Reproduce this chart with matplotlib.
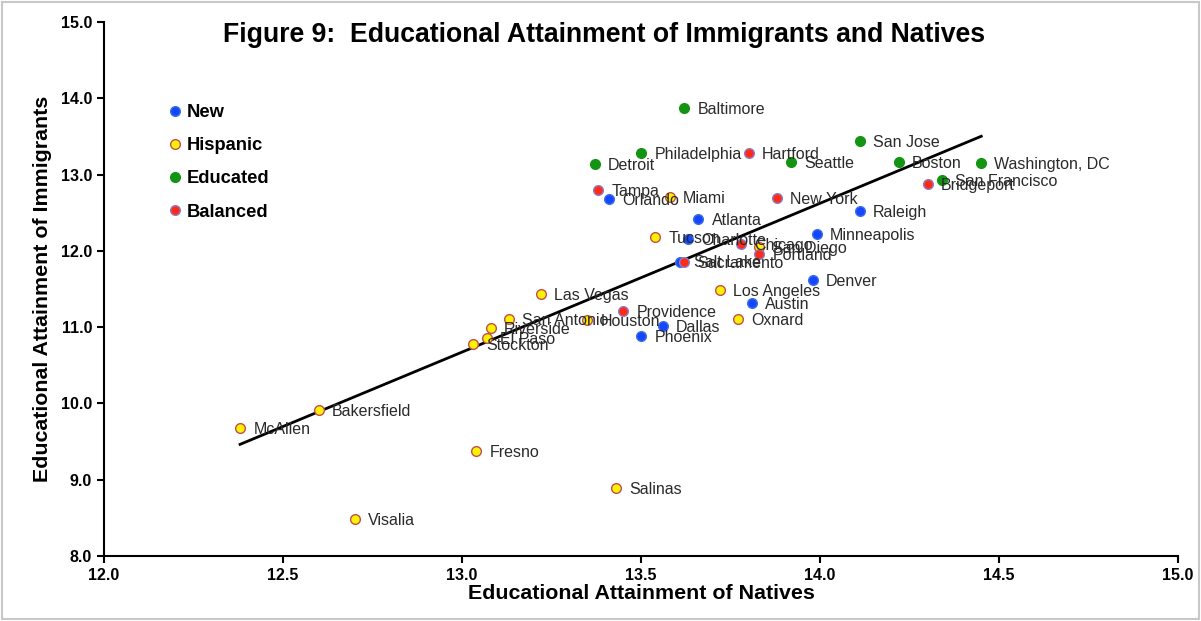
import matplotlib
matplotlib.use("Agg")
import matplotlib.pyplot as plt
from matplotlib.lines import Line2D
from matplotlib.patches import Rectangle
import numpy as np

plt.rcParams['font.family'] = ['Liberation Sans', 'DejaVu Sans']

# metro areas: name, natives, immigrants, group
cities = ["Baltimore", "Philadelphia", "Hartford", "Detroit", "Seattle", "San Jose", "Boston",
          "Washington, DC", "San Francisco", "Bridgeport", "Tampa", "Orlando", "Miami", "New York",
          "Raleigh", "Atlanta", "Minneapolis", "Tucson", "Charlotte", "Chicago", "San Diego",
          "Portland", "Salt Lake", "Sacramento", "Denver", "Los Angeles", "Austin", "Oxnard",
          "Providence", "Houston", "San Antonio", "Dallas", "Phoenix", "Las Vegas", "Riverside",
          "El Paso", "Stockton", "Bakersfield", "McAllen", "Fresno", "Salinas", "Visalia"]
natives = [13.62, 13.50, 13.80, 13.37, 13.92, 14.11, 14.22,
           14.45, 14.34, 14.30, 13.38, 13.41, 13.58, 13.88,
           14.11, 13.66, 13.99, 13.54, 13.63, 13.78, 13.83,
           13.83, 13.61, 13.62, 13.98, 13.72, 13.81, 13.77,
           13.45, 13.35, 13.13, 13.56, 13.50, 13.22, 13.08,
           13.07, 13.03, 12.60, 12.38, 13.04, 13.43, 12.70]
immigrants = [13.87, 13.28, 13.28, 13.14, 13.16, 13.44, 13.16,
              13.15, 12.93, 12.87, 12.80, 12.68, 12.71, 12.69,
              12.52, 12.42, 12.22, 12.18, 12.16, 12.09, 12.05,
              11.96, 11.86, 11.85, 11.62, 11.49, 11.31, 11.10,
              11.21, 11.09, 11.10, 11.01, 10.88, 11.43, 10.99,
              10.86, 10.78, 9.91, 9.68, 9.37, 8.89, 8.48]
groups = ["Educated", "Educated", "Balanced", "Educated", "Educated", "Educated", "Educated",
          "Educated", "Educated", "Balanced", "Balanced", "New", "Hispanic", "Balanced",
          "New", "New", "New", "Hispanic", "New", "Balanced", "Hispanic",
          "Balanced", "New", "Balanced", "New", "Hispanic", "New", "Hispanic",
          "Balanced", "Hispanic", "Hispanic", "New", "New", "Hispanic", "Hispanic",
          "Hispanic", "Hispanic", "Hispanic", "Hispanic", "Hispanic", "Hispanic", "Hispanic"]

group_names = ["New", "Hispanic", "Educated", "Balanced"]
face = {"New": "#1447FF", "Hispanic": "#FFF200", "Educated": "#139413", "Balanced": "#FF2A17"}
edge = {"New": "#3F6FE0", "Hispanic": "#C0504D", "Educated": "#139413", "Balanced": "#8A7FC8"}

fig = plt.figure(figsize=(12.01, 6.21), dpi=100)
ax = fig.add_axes([0.0866, 0.1047, 0.8944, 0.8599])
fig.patches.append(Rectangle((0.002, 0.003), 0.996, 0.994, transform=fig.transFigure,
                             fill=False, edgecolor="#C8C8C8", linewidth=1.5))

x = np.array(natives)
y = np.array(immigrants)

# trend line
m, b = np.polyfit(x, y, 1)
xs = np.array([x.min(), x.max()])
ax.plot(xs, m * xs + b, color="black", lw=2, zorder=2)

for xi, yi, g, name in zip(natives, immigrants, groups, cities):
    ax.plot(xi, yi, 'o', ms=7, mfc=face[g], mec=edge[g], mew=1, zorder=3)
    ax.annotate(name, (xi, yi), xytext=(9.5, -1), textcoords="offset points",
                va="center", ha="left", fontsize=11.5, color="#2A2A2A", zorder=4)

handles = [Line2D([], [], ls="", marker="o", ms=7, mfc=face[g], mec=edge[g], mew=1)
           for g in group_names]
leg = ax.legend(handles, group_names, loc="upper left", bbox_to_anchor=(0.0577, 0.846),
                frameon=False, handlelength=1.0, handletextpad=0.15, labelspacing=0.88,
                borderpad=0, borderaxespad=0, prop={"weight": "bold", "size": 13.2})

ax.set_xlim(12.0, 15.0)
ax.set_ylim(8.0, 15.0)
ax.set_xticks(np.arange(12.0, 15.01, 0.5))
ax.set_yticks(np.arange(8.0, 15.01, 1.0))
ax.set_xticklabels(["%.1f" % v for v in np.arange(12.0, 15.01, 0.5)], fontweight="bold", fontsize=11.5)
ax.set_yticklabels(["%.1f" % v for v in np.arange(8.0, 15.01, 1.0)], fontweight="bold", fontsize=11.5)
ax.tick_params(direction="out", length=5, width=1.5)
for s in ["top", "right"]:
    ax.spines[s].set_visible(False)
for s in ["left", "bottom"]:
    ax.spines[s].set_linewidth(1.5)

ax.set_xlabel("Educational Attainment of Natives", fontweight="bold", fontsize=15.4, labelpad=1)
ax.set_ylabel("Educational Attainment of Immigrants", fontweight="bold", fontsize=15.4, labelpad=6)
fig.text(0.503, 0.944, "Figure 9:  Educational Attainment of Immigrants and Natives",
         ha="center", va="center", fontweight="bold", fontsize=19.2)

plt.savefig("out.png", dpi=100)
plt.close()
